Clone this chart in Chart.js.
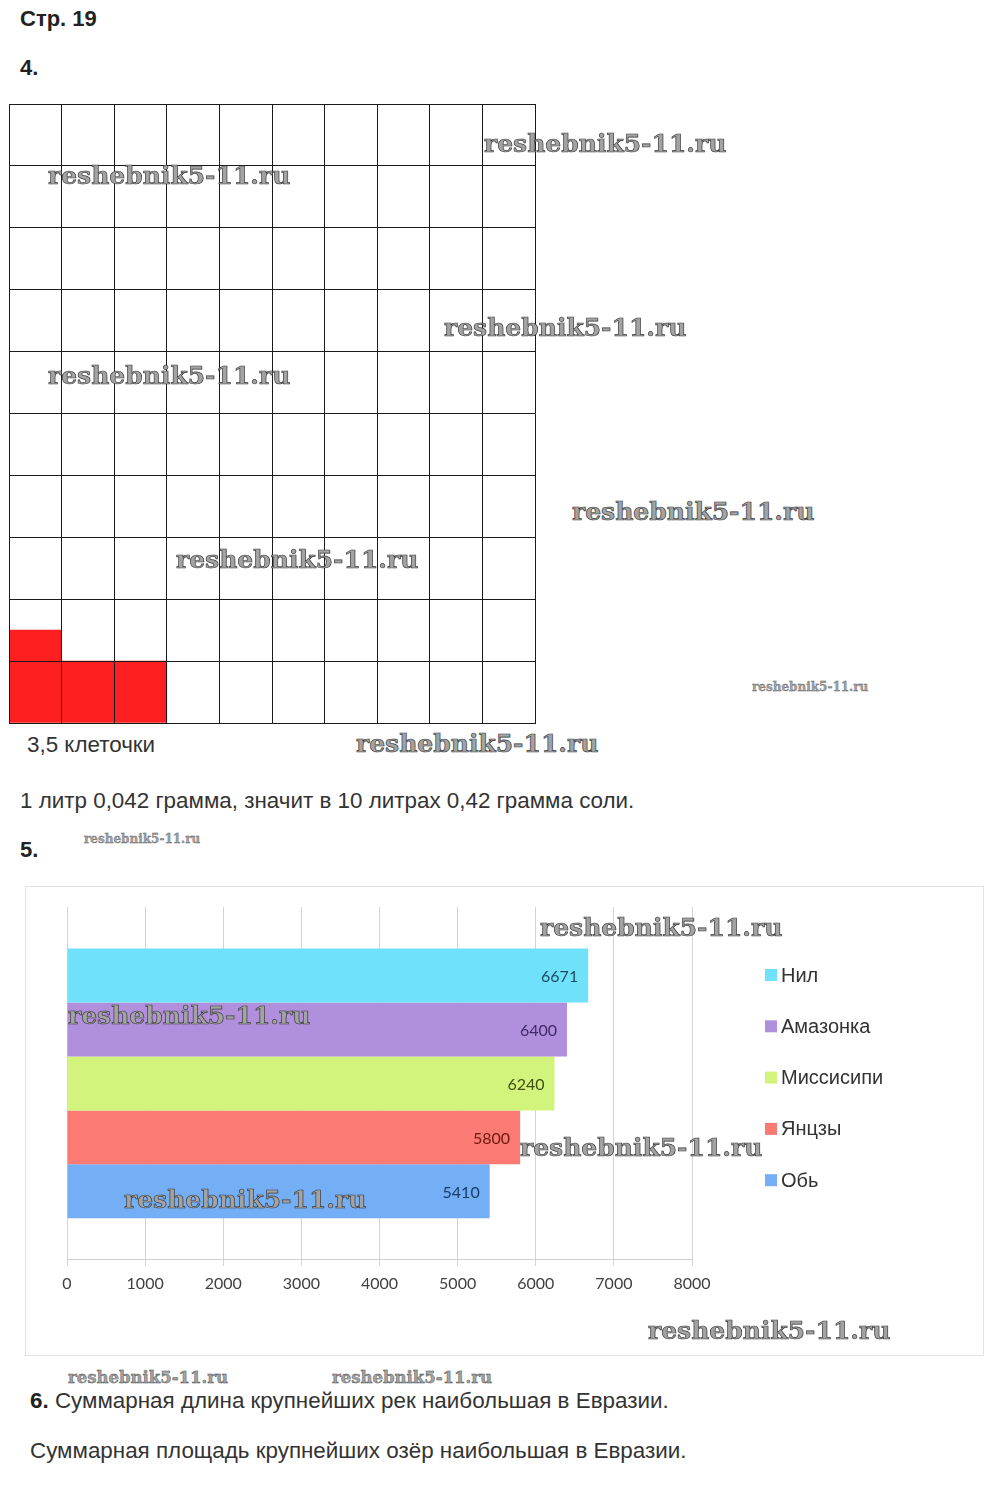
<!DOCTYPE html>
<html>
<head>
<meta charset="utf-8">
<script src="https://cdn.jsdelivr.net/npm/chart.js@4.4.1/dist/chart.umd.min.js"></script>
<style>
  body { margin: 0; width: 1000px; height: 1511px; background: #fff; position: relative; font-family: "Liberation Sans", Arial, sans-serif; color: #222; overflow: hidden; }
  .t { position: absolute; white-space: nowrap; font-size: 22.4px; line-height: 26px; }
  .b { font-weight: bold; }
  .wm { position: absolute; white-space: nowrap; font-family: "DejaVu Serif", serif; font-weight: bold; color: #a3a3a3; -webkit-text-stroke: 0.7px #3a3a3a; z-index: 5; line-height: 1; font-size: 25px; }
  .wm.s { font-size: 12px; -webkit-text-stroke: 0.3px #555; }
  .wm.m { font-size: 16.5px; -webkit-text-stroke: 0.4px #444; }
  #gridBox { position: absolute; left: 4px; top: 99px; width: 536px; height: 629px; }
  #frame { position: absolute; left: 25px; top: 886px; width: 957px; height: 468px; border: 1px solid #e3e3e3; }
  #riverBox { position: absolute; left: 0; top: 0; width: 957px; height: 468px; }
</style>
</head>
<body>
<div class="t b" style="left:20px; top:6px; font-size:22px;">Стр. 19</div>
<div class="t b" style="left:20px; top:55px; font-size:22px;">4.</div>

<div id="gridBox"><canvas id="cells"></canvas></div>

<div class="t" style="left:27px; top:732px; color:#333;">3,5 клеточки</div>
<div class="t" style="left:20px; top:788px; color:#333;">1 литр 0,042 грамма, значит в 10 литрах 0,42 грамма соли.</div>
<div class="t b" style="left:20px; top:837px; font-size:22px;">5.</div>

<div id="frame"><div id="riverBox"><canvas id="rivers"></canvas></div></div>

<div class="t" style="left:30px; top:1388px; color:#333;"><b style="color:#222">6.</b> Суммарная длина крупнейших рек наибольшая в Евразии.</div>
<div class="t" style="left:30px; top:1438px; color:#333;">Суммарная площадь крупнейших озёр наибольшая в Евразии.</div>

<div class="wm" style="left:484px; top:131px;">reshebnik5-11.ru</div>
<div class="wm" style="left:48px; top:163px;">reshebnik5-11.ru</div>
<div class="wm" style="left:444px; top:315px;">reshebnik5-11.ru</div>
<div class="wm" style="left:48px; top:363px;">reshebnik5-11.ru</div>
<div class="wm" style="left:572px; top:499px;">reshebnik5-11.ru</div>
<div class="wm" style="left:176px; top:547px;">reshebnik5-11.ru</div>
<div class="wm s" style="left:752px; top:681px;">reshebnik5-11.ru</div>
<div class="wm" style="left:356px; top:731px;">reshebnik5-11.ru</div>
<div class="wm s" style="left:84px; top:833px;">reshebnik5-11.ru</div>
<div class="wm" style="left:540px; top:915px;">reshebnik5-11.ru</div>
<div class="wm" style="left:68px; top:1003px;">reshebnik5-11.ru</div>
<div class="wm" style="left:520px; top:1135px;">reshebnik5-11.ru</div>
<div class="wm" style="left:124px; top:1187px;">reshebnik5-11.ru</div>
<div class="wm" style="left:648px; top:1318px;">reshebnik5-11.ru</div>
<div class="wm m" style="left:68px; top:1370px;">reshebnik5-11.ru</div>
<div class="wm m" style="left:332px; top:1370px;">reshebnik5-11.ru</div>

<script>
// задание 4: клетки (закрашено 3,5 клеточки)
const cellColumns = ["1", "2", "3", "4", "5", "6", "7", "8", "9", "10"];
const filledCells = [1.5, 1, 1, null, null, null, null, null, null, null];

// задание 5: реки
const rivers = ["Нил", "Амазонка", "Миссисипи", "Янцзы", "Обь"];
const riverLengths = [6671, 6400, 6240, 5800, 5410];
const riverColors = ["#6fe1fb", "#b08fdc", "#d2f47c", "#fb7a73", "#74aef5"];
const labelColors = ["#1f4a66", "#3f2a66", "#3f4f10", "#6e1a12", "#173c6a"];
const lengthTicks = [0, 1000, 2000, 3000, 4000, 5000, 6000, 7000, 8000];

new Chart(document.getElementById("cells"), {
  type: "bar",
  data: {
    labels: cellColumns,
    datasets: [{
      data: filledCells,
      backgroundColor: "#fe2020",
      barPercentage: 1,
      categoryPercentage: 1
    }]
  },
  options: {
    responsive: true,
    maintainAspectRatio: false,
    animation: false,
    layout: { padding: 5 },
    plugins: { legend: { display: false }, tooltip: { enabled: false } },
    scales: {
      x: {
        grid: { z: 1, color: "#1a1a1a", lineWidth: 1, drawTicks: false, offset: true },
        border: { z: 1, color: "#1a1a1a" },
        ticks: { display: false }
      },
      y: {
        min: 0, max: 10,
        grid: { z: 1, color: "#1a1a1a", lineWidth: 1, drawTicks: false },
        border: { z: 1, color: "#1a1a1a" },
        ticks: { display: false, stepSize: 1 }
      }
    }
  }
});

// подписи значений и легенда справа
const riverExtras = {
  id: "riverExtras",
  afterDatasetsDraw(chart) {
    const ctx = chart.ctx;
    ctx.save();
    ctx.font = "16px Lato, 'Open Sans', sans-serif";
    ctx.textAlign = "right";
    ctx.textBaseline = "middle";
    chart.data.datasets.forEach((ds, i) => {
      const bar = chart.getDatasetMeta(i).data[0];
      ctx.fillStyle = labelColors[i];
      ctx.fillText(ds.data[0], bar.x - 10, bar.y + 1);
    });
    // легенда
    ctx.textAlign = "left";
    ctx.font = "20px 'Liberation Sans', Arial, sans-serif";
    const lx = 764 - 25, ly0 = 974 - 886, step = 51.3;
    chart.data.datasets.forEach((ds, i) => {
      const y = ly0 + i * step;
      ctx.fillStyle = ds.backgroundColor;
      ctx.fillRect(lx, y - 6, 12, 12);
      ctx.fillStyle = "#333";
      ctx.fillText(ds.label, lx + 16, y + 1);
    });
    ctx.restore();
  }
};

new Chart(document.getElementById("rivers"), {
  type: "bar",
  data: {
    labels: [""],
    datasets: rivers.map((name, i) => ({
      label: name,
      data: [riverLengths[i]],
      backgroundColor: riverColors[i],
      barPercentage: 1,
      categoryPercentage: 0.765
    }))
  },
  options: {
    indexAxis: "y",
    responsive: true,
    maintainAspectRatio: false,
    animation: false,
    layout: { padding: { left: 41, top: 20, right: 291, bottom: 54 } },
    plugins: { legend: { display: false }, tooltip: { enabled: false } },
    scales: {
      x: {
        min: 0, max: 8000,
        afterBuildTicks: (axis) => { axis.ticks = lengthTicks.map(v => ({ value: v })); },
        grid: { color: "#d4d4d4", lineWidth: 1, tickLength: 6 },
        border: { color: "#cfcfcf" },
        ticks: {
          color: "#404040", padding: 8,
          font: { family: "Lato, 'Open Sans', sans-serif", size: 16 },
          callback: (v) => String(v)
        }
      },
      y: {
        display: false
      }
    }
  },
  plugins: [riverExtras]
});
</script>
</body>
</html>
